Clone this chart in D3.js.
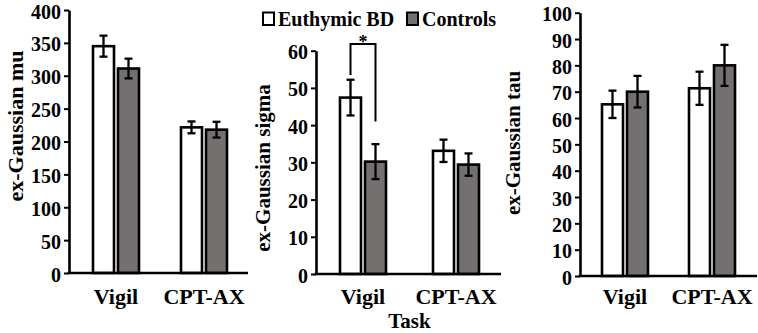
<!DOCTYPE html>
<html>
<head>
<meta charset="utf-8">
<script src="https://cdn.jsdelivr.net/npm/d3@7/dist/d3.min.js"></script>
<style>
  html, body { margin: 0; padding: 0; background: #fff; }
  svg { display: block; }
  svg text { font-family: "Liberation Serif", "Tinos", "Times New Roman", Times, "DejaVu Serif", serif !important; font-weight: bold; fill: #000; }
</style>
</head>
<body>
<svg id="chart" width="758" height="333"></svg>
<script>
// ---- data ----
const categories = ["Vigil", "CPT-AX"];
const seriesNames = ["Euthymic BD", "Controls"];
const seriesFill = ["#ffffff", "#747070"];

const muBD = [345, 221.5];
const muCtrl = [311, 218];
const muBDErr = [16, 9];
const muCtrlErr = [15, 12];
const muTicks = [0, 50, 100, 150, 200, 250, 300, 350, 400];

const sigmaBD = [47.4, 33.1];
const sigmaCtrl = [30.2, 29.4];
const sigmaBDErr = [4.8, 3.0];
const sigmaCtrlErr = [4.7, 3.0];
const sigmaTicks = [0, 10, 20, 30, 40, 50, 60];

const tauBD = [65.2, 71.3];
const tauCtrl = [70, 80];
const tauBDErr = [5.2, 6.3];
const tauCtrlErr = [6, 7.8];
const tauTicks = [0, 10, 20, 30, 40, 50, 60, 70, 80, 90, 100];

// significance bracket (sigma panel, Vigil): value levels
const sigCategory = "Vigil";
const sigLevels = [53.5, 61.8, 41];   // left leg end, top, right leg end
const sigLabel = "*";

const xTitle = "Task";

// ---- layout ----
const FONT = '"Liberation Serif", "Tinos", "Times New Roman", Times, "DejaVu Serif", serif';
const svg = d3.select("#chart");
const panels = [
  { label: "ex-Gaussian mu", labelSize: 22, bd: muBD, ctrl: muCtrl, bdErr: muBDErr, ctrlErr: muCtrlErr, ticks: muTicks,
    axisX: 69, xRange: [72, 248], xEnd: 248, yRange: [273, 10], labelX: 15, labelY: 126 },
  { label: "ex-Gaussian sigma", labelSize: 21, bd: sigmaBD, ctrl: sigmaCtrl, bdErr: sigmaBDErr, ctrlErr: sigmaCtrlErr, ticks: sigmaTicks,
    axisX: 316, xRange: [316.5, 502.5], xEnd: 501, yRange: [274, 50.7], labelX: 263, labelY: 168, sig: true },
  { label: "ex-Gaussian tau", labelSize: 21, bd: tauBD, ctrl: tauCtrl, bdErr: tauBDErr, ctrlErr: tauCtrlErr, ticks: tauTicks,
    axisX: 580, xRange: [581.5, 755.5], xEnd: 757, yRange: [276, 12.7], labelX: 513, labelY: 143 }
];

panels.forEach(p => {
  const g = svg.append("g");
  const ticks = p.ticks;
  const y = d3.scaleLinear().domain([0, d3.max(ticks)]).range(p.yRange);
  const x0 = d3.scaleBand().domain(categories).range(p.xRange).paddingInner(0).paddingOuter(0);
  const groupW = 46;
  const x1 = d3.scaleBand().domain(seriesNames).range([-groupW / 2, groupW / 2]).paddingInner(0.16).paddingOuter(0);

  const rows = [];
  categories.forEach((c, i) => {
    rows.push({ cat: c, s: seriesNames[0], v: p.bd[i], e: p.bdErr[i], fill: seriesFill[0] });
    rows.push({ cat: c, s: seriesNames[1], v: p.ctrl[i], e: p.ctrlErr[i], fill: seriesFill[1] });
  });
  const cx = d => x0(d.cat) + x0.bandwidth() / 2 + x1(d.s);

  // bars
  g.selectAll("rect.bar").data(rows).join("rect")
    .attr("class", "bar")
    .attr("x", d => cx(d))
    .attr("y", d => y(d.v))
    .attr("width", x1.bandwidth())
    .attr("height", d => y(0) - y(d.v))
    .attr("fill", d => d.fill)
    .attr("stroke", "#000")
    .attr("stroke-width", 2.6);

  // error bars
  const capW = 4;
  const eb = g.selectAll("g.err").data(rows).join("g").attr("class", "err")
    .attr("stroke", "#000").attr("stroke-width", 2.3);
  eb.append("line")
    .attr("x1", d => cx(d) + x1.bandwidth() / 2).attr("x2", d => cx(d) + x1.bandwidth() / 2)
    .attr("y1", d => y(d.v + d.e)).attr("y2", d => y(d.v - d.e));
  eb.append("line")
    .attr("x1", d => cx(d) + x1.bandwidth() / 2 - capW).attr("x2", d => cx(d) + x1.bandwidth() / 2 + capW)
    .attr("y1", d => y(d.v + d.e)).attr("y2", d => y(d.v + d.e));
  eb.append("line")
    .attr("x1", d => cx(d) + x1.bandwidth() / 2 - capW).attr("x2", d => cx(d) + x1.bandwidth() / 2 + capW)
    .attr("y1", d => y(d.v - d.e)).attr("y2", d => y(d.v - d.e));

  // y axis
  const yAxis = d3.axisLeft(y).tickValues(ticks).tickSize(5).tickSizeOuter(0).tickPadding(3).tickFormat(d3.format("d"));
  const ya = g.append("g").attr("transform", `translate(${p.axisX},0)`).call(yAxis)
    .attr("font-family", FONT).attr("font-size", 20).attr("font-weight", "bold");
  ya.select(".domain").attr("stroke", "#000").attr("stroke-width", 2.6);
  ya.selectAll(".tick line").attr("stroke", "#000").attr("stroke-width", 2);
  ya.selectAll(".tick text").attr("fill", "#000").attr("font-size", 20).attr("dy", "0.4em");

  // x axis line
  g.append("line")
    .attr("x1", p.axisX - 1.3).attr("x2", p.xEnd)
    .attr("y1", y(0)).attr("y2", y(0))
    .attr("stroke", "#000").attr("stroke-width", 2.6);

  // category labels
  g.selectAll("text.cat").data(categories).join("text")
    .attr("class", "cat")
    .attr("x", d => x0(d) + x0.bandwidth() / 2)
    .attr("y", 304)
    .attr("text-anchor", "middle")
    .attr("font-family", FONT)
    .attr("font-size", 22)
    .text(d => d);

  // y label
  g.append("text")
    .attr("transform", `translate(${p.labelX},${p.labelY}) rotate(-90)`)
    .attr("text-anchor", "middle")
    .attr("dy", "0.35em")
    .attr("font-family", FONT)
    .attr("font-size", p.labelSize)
    .text(p.label);

  if (p.sig) {
    const xl = x0(sigCategory) + x0.bandwidth() / 2 + x1(seriesNames[0]) + x1.bandwidth() / 2;
    const xr = x0(sigCategory) + x0.bandwidth() / 2 + x1(seriesNames[1]) + x1.bandwidth() / 2;
    g.append("path")
      .attr("d", `M${xl},${y(sigLevels[0])}V${y(sigLevels[1])}H${xr}V${y(sigLevels[2])}`)
      .attr("fill", "none").attr("stroke", "#000").attr("stroke-width", 2);
    g.append("text")
      .attr("x", (xl + xr) / 2).attr("y", y(sigLevels[1]) + 4)
      .attr("text-anchor", "middle").attr("font-size", 18).attr("font-family", FONT)
      .text(sigLabel);
    g.append("text")
      .attr("x", (p.xRange[0] + p.xRange[1]) / 2 + 0).attr("y", 328)
      .attr("text-anchor", "middle").attr("font-size", 21).attr("font-family", FONT)
      .text(xTitle);
  }
});

// legend
const legendX = [263, 407];
const leg = svg.append("g");
seriesNames.forEach((s, i) => {
  leg.append("rect").attr("x", legendX[i]).attr("y", 12.5).attr("width", 11).attr("height", 12.5)
    .attr("fill", seriesFill[i]).attr("stroke", "#000").attr("stroke-width", 2);
  leg.append("text").attr("x", legendX[i] + 15).attr("y", 26).attr("font-size", 20).attr("font-family", FONT).text(s);
});
</script>
</body>
</html>
